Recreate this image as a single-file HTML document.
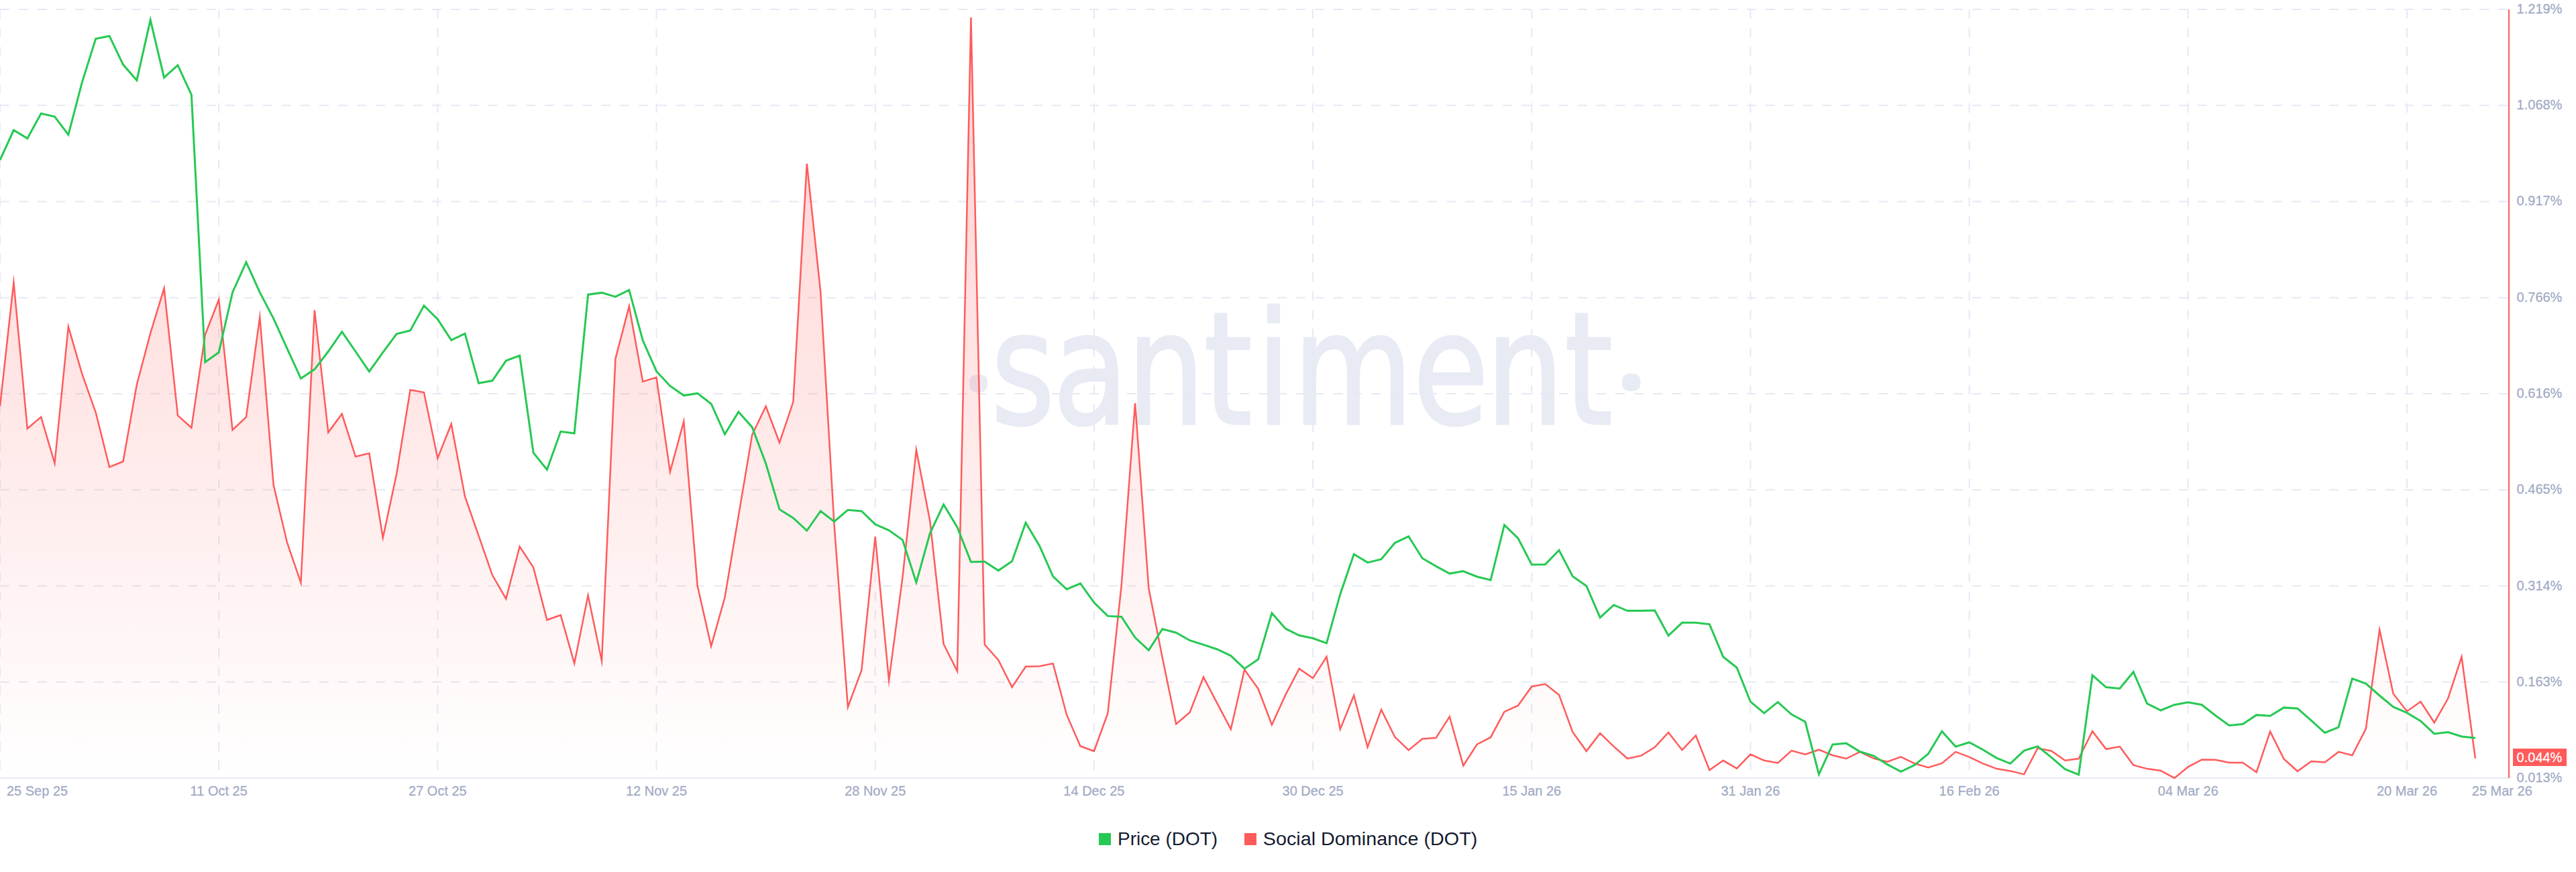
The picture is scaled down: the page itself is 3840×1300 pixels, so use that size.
<!DOCTYPE html>
<html lang="en"><head><meta charset="utf-8"><title>Price (DOT) / Social Dominance (DOT)</title>
<style>
html,body{margin:0;padding:0;background:#fff;}
body{width:3840px;height:1300px;overflow:hidden;}
svg{display:block;font-family:"Liberation Sans",Arial,Helvetica,sans-serif;}
.ax{font-size:20px;fill:#9faac4;stroke:#9faac4;stroke-width:0.25px;}
.lg{font-size:28px;fill:#141b2f;}
</style></head><body>
<svg width="3840" height="1300" viewBox="0 0 3840 1300">
<defs><linearGradient id="rg" gradientUnits="userSpaceOnUse" x1="0" y1="13.9" x2="0" y2="1160.0">
<stop offset="0" stop-color="#ff5b5b" stop-opacity="0.30"/><stop offset="1" stop-color="#ff5b5b" stop-opacity="0"/></linearGradient></defs>
<rect width="3840" height="1300" fill="#fff"/>
<g fill="#e8ebf4">
<rect x="1445" y="558.5" width="27" height="26" rx="10.5" ry="10.5"/>
<rect x="2418" y="557" width="27.5" height="26" rx="10.5" ry="10.5"/>
<text transform="translate(1480,632) scale(0.872,1)" font-family="&quot;DejaVu Sans Condensed&quot;, &quot;DejaVu Sans&quot;, sans-serif" font-size="234" x="0" y="0" dx="-3.5 -3.5 -2.5 -2 7.5 4 0 -5 1" stroke="#e8ebf4" stroke-width="3">santiment</text>
</g>
<g stroke="#e6e9f4" stroke-width="2" stroke-dasharray="14 14" fill="none">
<line x1="0" y1="13.9" x2="3738" y2="13.9"/>
<line x1="0" y1="157.2" x2="3738" y2="157.2"/>
<line x1="0" y1="300.4" x2="3738" y2="300.4"/>
<line x1="0" y1="443.7" x2="3738" y2="443.7"/>
<line x1="0" y1="586.9" x2="3738" y2="586.9"/>
<line x1="0" y1="730.2" x2="3738" y2="730.2"/>
<line x1="0" y1="873.5" x2="3738" y2="873.5"/>
<line x1="0" y1="1016.7" x2="3738" y2="1016.7"/>
<line x1="0.0" y1="13.9" x2="0.0" y2="1160.0"/>
<line x1="326.2" y1="13.9" x2="326.2" y2="1160.0"/>
<line x1="652.4" y1="13.9" x2="652.4" y2="1160.0"/>
<line x1="978.5" y1="13.9" x2="978.5" y2="1160.0"/>
<line x1="1304.7" y1="13.9" x2="1304.7" y2="1160.0"/>
<line x1="1630.9" y1="13.9" x2="1630.9" y2="1160.0"/>
<line x1="1957.1" y1="13.9" x2="1957.1" y2="1160.0"/>
<line x1="2283.3" y1="13.9" x2="2283.3" y2="1160.0"/>
<line x1="2609.4" y1="13.9" x2="2609.4" y2="1160.0"/>
<line x1="2935.6" y1="13.9" x2="2935.6" y2="1160.0"/>
<line x1="3261.8" y1="13.9" x2="3261.8" y2="1160.0"/>
<line x1="3588.0" y1="13.9" x2="3588.0" y2="1160.0"/>
</g>
<line x1="0" y1="1160.0" x2="3740" y2="1160.0" stroke="#e6e9f4" stroke-width="2"/>
<polygon fill="url(#rg)" points="0.0,605.6 20.4,421.0 40.8,639.0 61.2,621.6 81.5,690.5 101.9,487.0 122.3,557.4 142.7,614.8 163.1,696.4 183.5,688.0 203.9,573.5 224.2,496.9 244.6,429.8 265.0,619.4 285.4,637.7 305.8,499.0 326.2,446.5 346.6,641.0 367.0,621.6 387.3,472.7 407.7,723.0 428.1,809.2 448.5,868.8 468.9,462.5 489.3,644.6 509.7,617.0 530.0,680.8 550.4,675.8 570.8,801.8 591.2,706.5 611.6,581.3 632.0,585.0 652.4,683.2 672.7,632.0 693.1,740.2 713.5,798.6 733.9,857.3 754.3,892.7 774.7,814.7 795.1,845.9 815.4,924.3 835.8,917.0 856.2,989.0 876.6,887.6 897.0,985.3 917.4,535.0 937.8,456.6 958.2,569.0 978.5,562.6 998.9,703.4 1019.3,628.3 1039.7,873.4 1060.1,963.4 1080.5,890.5 1100.9,769.0 1121.2,648.3 1141.6,605.7 1162.0,659.8 1182.4,599.3 1202.8,244.0 1223.2,435.0 1243.6,783.0 1263.9,1054.2 1284.3,999.2 1304.7,800.1 1325.1,1014.3 1345.5,860.2 1365.9,670.7 1386.3,776.7 1406.6,960.2 1427.0,1000.6 1447.4,26.1 1467.8,961.1 1488.2,984.0 1508.6,1024.4 1529.0,993.7 1549.4,993.2 1569.7,989.1 1590.1,1065.7 1610.5,1112.5 1630.9,1119.8 1651.3,1063.4 1671.7,873.0 1692.1,601.1 1712.4,877.6 1732.8,980.8 1753.2,1079.4 1773.6,1062.0 1794.0,1009.3 1814.4,1048.3 1834.8,1087.2 1855.1,998.3 1875.5,1026.7 1895.9,1080.4 1916.3,1035.9 1936.7,996.9 1957.1,1011.1 1977.5,979.0 1997.8,1087.2 2018.2,1036.8 2038.6,1113.9 2059.0,1057.9 2079.4,1098.7 2099.8,1118.4 2120.2,1101.5 2140.6,1100.1 2160.9,1068.4 2181.3,1141.4 2201.7,1109.7 2222.1,1099.2 2242.5,1061.1 2262.9,1051.9 2283.3,1023.5 2303.6,1019.8 2324.0,1035.9 2344.4,1091.4 2364.8,1119.8 2385.2,1093.2 2405.6,1112.9 2426.0,1130.8 2446.3,1126.6 2466.7,1114.0 2487.1,1092.0 2507.5,1118.2 2527.9,1096.6 2548.3,1148.0 2568.7,1133.8 2589.0,1145.7 2609.4,1124.6 2629.8,1133.8 2650.2,1137.4 2670.6,1119.1 2691.0,1124.6 2711.4,1117.7 2731.8,1126.0 2752.1,1131.0 2772.5,1120.9 2792.9,1130.6 2813.3,1135.6 2833.7,1128.3 2854.1,1138.3 2874.5,1144.3 2894.8,1137.9 2915.2,1120.9 2935.6,1128.7 2956.0,1138.3 2976.4,1146.1 2996.8,1149.4 3017.2,1154.4 3037.5,1115.4 3057.9,1119.5 3078.3,1133.8 3098.7,1131.0 3119.1,1090.2 3139.5,1116.8 3159.9,1113.1 3180.2,1140.6 3200.6,1146.1 3221.0,1148.9 3241.4,1159.9 3261.8,1143.4 3282.2,1132.4 3302.6,1132.8 3323.0,1137.0 3343.3,1137.0 3363.7,1151.2 3384.1,1090.6 3404.5,1131.5 3424.9,1149.8 3445.3,1135.1 3465.7,1136.5 3486.0,1120.9 3506.4,1126.0 3526.8,1086.5 3547.2,939.0 3567.6,1034.2 3588.0,1060.4 3608.4,1046.1 3628.7,1077.3 3649.1,1041.6 3669.5,979.3 3689.9,1130.6 3689.9,1160.0 0,1160.0"/>
<polyline fill="none" stroke="#ff5b5b" stroke-width="2.5" stroke-linejoin="miter" stroke-miterlimit="10" points="0.0,605.6 20.4,421.0 40.8,639.0 61.2,621.6 81.5,690.5 101.9,487.0 122.3,557.4 142.7,614.8 163.1,696.4 183.5,688.0 203.9,573.5 224.2,496.9 244.6,429.8 265.0,619.4 285.4,637.7 305.8,499.0 326.2,446.5 346.6,641.0 367.0,621.6 387.3,472.7 407.7,723.0 428.1,809.2 448.5,868.8 468.9,462.5 489.3,644.6 509.7,617.0 530.0,680.8 550.4,675.8 570.8,801.8 591.2,706.5 611.6,581.3 632.0,585.0 652.4,683.2 672.7,632.0 693.1,740.2 713.5,798.6 733.9,857.3 754.3,892.7 774.7,814.7 795.1,845.9 815.4,924.3 835.8,917.0 856.2,989.0 876.6,887.6 897.0,985.3 917.4,535.0 937.8,456.6 958.2,569.0 978.5,562.6 998.9,703.4 1019.3,628.3 1039.7,873.4 1060.1,963.4 1080.5,890.5 1100.9,769.0 1121.2,648.3 1141.6,605.7 1162.0,659.8 1182.4,599.3 1202.8,244.0 1223.2,435.0 1243.6,783.0 1263.9,1054.2 1284.3,999.2 1304.7,800.1 1325.1,1014.3 1345.5,860.2 1365.9,670.7 1386.3,776.7 1406.6,960.2 1427.0,1000.6 1447.4,26.1 1467.8,961.1 1488.2,984.0 1508.6,1024.4 1529.0,993.7 1549.4,993.2 1569.7,989.1 1590.1,1065.7 1610.5,1112.5 1630.9,1119.8 1651.3,1063.4 1671.7,873.0 1692.1,601.1 1712.4,877.6 1732.8,980.8 1753.2,1079.4 1773.6,1062.0 1794.0,1009.3 1814.4,1048.3 1834.8,1087.2 1855.1,998.3 1875.5,1026.7 1895.9,1080.4 1916.3,1035.9 1936.7,996.9 1957.1,1011.1 1977.5,979.0 1997.8,1087.2 2018.2,1036.8 2038.6,1113.9 2059.0,1057.9 2079.4,1098.7 2099.8,1118.4 2120.2,1101.5 2140.6,1100.1 2160.9,1068.4 2181.3,1141.4 2201.7,1109.7 2222.1,1099.2 2242.5,1061.1 2262.9,1051.9 2283.3,1023.5 2303.6,1019.8 2324.0,1035.9 2344.4,1091.4 2364.8,1119.8 2385.2,1093.2 2405.6,1112.9 2426.0,1130.8 2446.3,1126.6 2466.7,1114.0 2487.1,1092.0 2507.5,1118.2 2527.9,1096.6 2548.3,1148.0 2568.7,1133.8 2589.0,1145.7 2609.4,1124.6 2629.8,1133.8 2650.2,1137.4 2670.6,1119.1 2691.0,1124.6 2711.4,1117.7 2731.8,1126.0 2752.1,1131.0 2772.5,1120.9 2792.9,1130.6 2813.3,1135.6 2833.7,1128.3 2854.1,1138.3 2874.5,1144.3 2894.8,1137.9 2915.2,1120.9 2935.6,1128.7 2956.0,1138.3 2976.4,1146.1 2996.8,1149.4 3017.2,1154.4 3037.5,1115.4 3057.9,1119.5 3078.3,1133.8 3098.7,1131.0 3119.1,1090.2 3139.5,1116.8 3159.9,1113.1 3180.2,1140.6 3200.6,1146.1 3221.0,1148.9 3241.4,1159.9 3261.8,1143.4 3282.2,1132.4 3302.6,1132.8 3323.0,1137.0 3343.3,1137.0 3363.7,1151.2 3384.1,1090.6 3404.5,1131.5 3424.9,1149.8 3445.3,1135.1 3465.7,1136.5 3486.0,1120.9 3506.4,1126.0 3526.8,1086.5 3547.2,939.0 3567.6,1034.2 3588.0,1060.4 3608.4,1046.1 3628.7,1077.3 3649.1,1041.6 3669.5,979.3 3689.9,1130.6"/>
<polyline fill="none" stroke="#26c953" stroke-width="3" stroke-linejoin="miter" stroke-miterlimit="10" points="0.0,238.5 20.4,194.0 40.8,206.4 61.2,169.3 81.5,173.9 101.9,200.9 122.3,122.9 142.7,57.8 163.1,53.7 183.5,96.3 203.9,119.7 224.2,29.7 244.6,115.6 265.0,97.2 285.4,141.3 305.8,540.0 326.2,525.3 346.6,435.9 367.0,391.0 387.3,435.9 407.7,474.9 428.1,519.8 448.5,564.3 468.9,550.6 489.3,524.0 509.7,494.6 530.0,524.0 550.4,553.8 570.8,525.3 591.2,497.8 611.6,492.8 632.0,455.6 652.4,476.0 672.7,507.0 693.1,497.4 713.5,571.3 733.9,567.6 754.3,537.8 774.7,530.0 795.1,675.0 815.4,700.2 835.8,643.3 856.2,646.0 876.6,439.2 897.0,436.4 917.4,442.4 937.8,432.3 958.2,507.5 978.5,553.4 998.9,575.4 1019.3,589.6 1039.7,586.4 1060.1,602.0 1080.5,647.4 1100.9,614.0 1121.2,636.9 1141.6,691.0 1162.0,759.4 1182.4,772.2 1202.8,791.0 1223.2,762.0 1243.6,777.5 1263.9,760.2 1284.3,762.0 1304.7,781.7 1325.1,790.5 1345.5,805.1 1365.9,868.4 1386.3,795.0 1406.6,752.2 1427.0,785.9 1447.4,837.7 1467.8,837.2 1488.2,850.6 1508.6,836.8 1529.0,779.2 1549.4,813.4 1569.7,859.3 1590.1,878.5 1610.5,869.8 1630.9,898.3 1651.3,918.4 1671.7,919.4 1692.1,950.6 1712.4,969.4 1732.8,937.7 1753.2,943.2 1773.6,954.7 1794.0,961.1 1814.4,968.0 1834.8,977.6 1855.1,996.9 1875.5,983.1 1895.9,914.0 1916.3,937.2 1936.7,947.3 1957.1,951.5 1977.5,958.8 1997.8,885.9 2018.2,826.2 2038.6,838.6 2059.0,833.6 2079.4,809.3 2099.8,799.6 2120.2,832.2 2140.6,844.1 2160.9,855.1 2181.3,851.5 2201.7,859.7 2222.1,864.8 2242.5,782.7 2262.9,802.4 2283.3,841.8 2303.6,841.4 2324.0,820.3 2344.4,859.3 2364.8,873.5 2385.2,920.7 2405.6,901.9 2426.0,910.6 2446.3,910.5 2466.7,910.0 2487.1,947.5 2507.5,928.3 2527.9,928.3 2548.3,930.6 2568.7,979.2 2589.0,995.2 2609.4,1046.1 2629.8,1063.1 2650.2,1046.6 2670.6,1065.0 2691.0,1076.0 2711.4,1154.4 2731.8,1109.9 2752.1,1108.1 2772.5,1120.5 2792.9,1126.9 2813.3,1139.7 2833.7,1150.3 2854.1,1140.6 2874.5,1123.7 2894.8,1090.2 2915.2,1113.1 2935.6,1106.7 2956.0,1117.7 2976.4,1130.1 2996.8,1138.3 3017.2,1119.1 3037.5,1112.7 3057.9,1129.2 3078.3,1146.6 3098.7,1154.8 3119.1,1006.7 3139.5,1024.6 3159.9,1026.4 3180.2,1001.7 3200.6,1048.9 3221.0,1059.0 3241.4,1050.7 3261.8,1047.1 3282.2,1050.7 3302.6,1066.8 3323.0,1081.5 3343.3,1079.6 3363.7,1065.9 3384.1,1067.2 3404.5,1054.9 3424.9,1056.2 3445.3,1074.1 3465.7,1092.5 3486.0,1084.2 3506.4,1011.7 3526.8,1019.1 3547.2,1037.0 3567.6,1053.9 3588.0,1062.7 3608.4,1075.0 3628.7,1093.9 3649.1,1091.6 3669.5,1098.0 3689.9,1100.3"/>
<line x1="3740" y1="13.9" x2="3740" y2="1160.0" stroke="#ff5b5b" stroke-width="2"/>
<text class="ax" transform="translate(3751.6,19.9) scale(1,1.055)" >1.219%</text>
<text class="ax" transform="translate(3751.6,163.2) scale(1,1.055)" >1.068%</text>
<text class="ax" transform="translate(3751.6,306.4) scale(1,1.055)" >0.917%</text>
<text class="ax" transform="translate(3751.6,449.7) scale(1,1.055)" >0.766%</text>
<text class="ax" transform="translate(3751.6,592.9) scale(1,1.055)" >0.616%</text>
<text class="ax" transform="translate(3751.6,736.2) scale(1,1.055)" >0.465%</text>
<text class="ax" transform="translate(3751.6,879.5) scale(1,1.055)" >0.314%</text>
<text class="ax" transform="translate(3751.6,1022.7) scale(1,1.055)" >0.163%</text>
<text class="ax" transform="translate(3751.6,1166.0) scale(1,1.055)" >0.013%</text>
<rect x="3746" y="1116" width="80" height="26" fill="#ff5b5b"/>
<text class="ax" transform="translate(3751.6,1135.6) scale(1,1.055)" style="fill:#fff;stroke:#fff">0.044%</text>
<text class="ax" transform="translate(10.0,1185.6) scale(1,1.055)" >25 Sep 25</text>
<text class="ax" transform="translate(326.2,1185.6) scale(1,1.055)" text-anchor="middle">11 Oct 25</text>
<text class="ax" transform="translate(652.4,1185.6) scale(1,1.055)" text-anchor="middle">27 Oct 25</text>
<text class="ax" transform="translate(978.5,1185.6) scale(1,1.055)" text-anchor="middle">12 Nov 25</text>
<text class="ax" transform="translate(1304.7,1185.6) scale(1,1.055)" text-anchor="middle">28 Nov 25</text>
<text class="ax" transform="translate(1630.9,1185.6) scale(1,1.055)" text-anchor="middle">14 Dec 25</text>
<text class="ax" transform="translate(1957.1,1185.6) scale(1,1.055)" text-anchor="middle">30 Dec 25</text>
<text class="ax" transform="translate(2283.3,1185.6) scale(1,1.055)" text-anchor="middle">15 Jan 26</text>
<text class="ax" transform="translate(2609.4,1185.6) scale(1,1.055)" text-anchor="middle">31 Jan 26</text>
<text class="ax" transform="translate(2935.6,1185.6) scale(1,1.055)" text-anchor="middle">16 Feb 26</text>
<text class="ax" transform="translate(3261.8,1185.6) scale(1,1.055)" text-anchor="middle">04 Mar 26</text>
<text class="ax" transform="translate(3588.0,1185.6) scale(1,1.055)" text-anchor="middle">20 Mar 26</text>
<text class="ax" transform="translate(3684.8,1185.6) scale(1,1.055)" >25 Mar 26</text>
<rect x="1638" y="1242" width="18" height="18" fill="#26c953"/>
<text class="lg" x="1666" y="1260" textLength="149" lengthAdjust="spacingAndGlyphs">Price (DOT)</text>
<rect x="1855" y="1242" width="18" height="18" fill="#ff5b5b"/>
<text class="lg" x="1882.8" y="1260" textLength="319.5" lengthAdjust="spacingAndGlyphs">Social Dominance (DOT)</text>
</svg></body></html>
